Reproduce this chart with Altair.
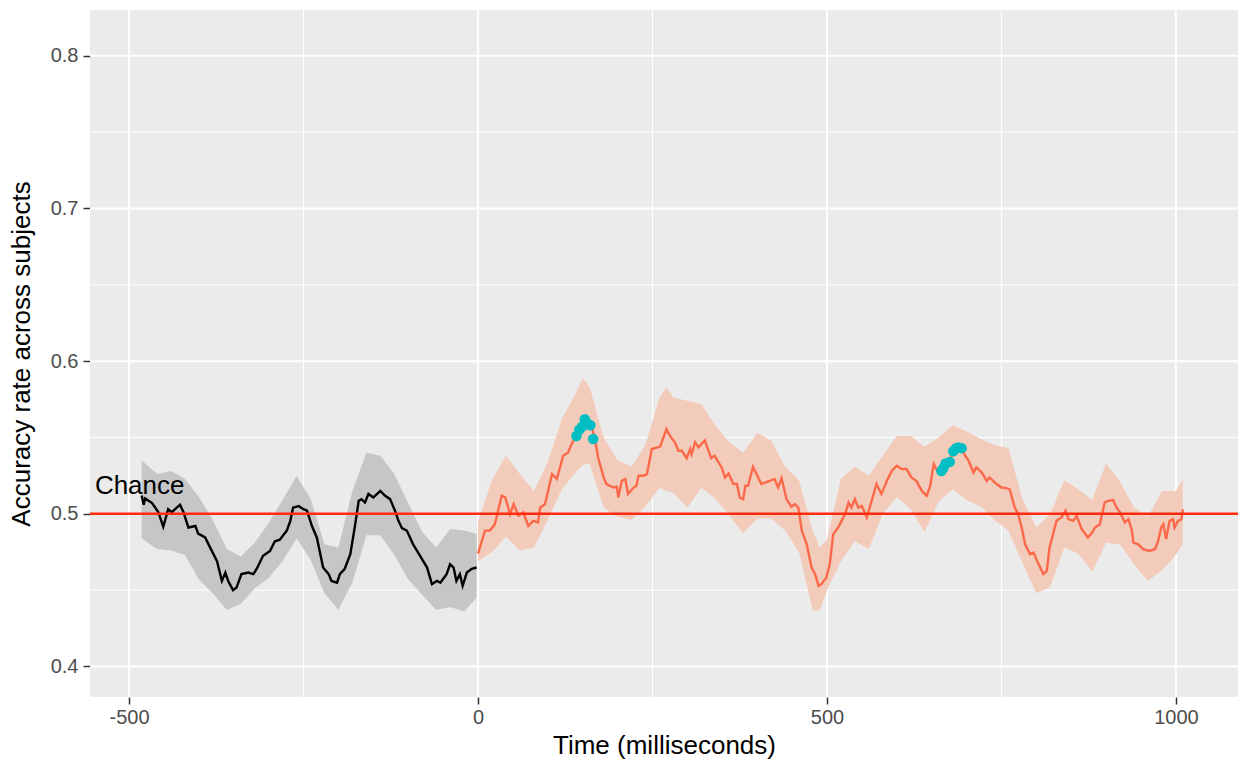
import altair as alt
import pandas as pd

# ---- pre-stimulus (baseline) mean accuracy ----
pre_t = [-482, -479, -477, -467, -458, -451, -444, -439, -427, -422, -415, -405, -401, -391,
         -384, -374, -367, -362, -358, -351, -346, -339, -329, -322, -317, -308, -298, -291,
         -284, -274, -269, -265, -257, -250, -245, -238, -231, -222, -214, -210, -202, -198,
         -191, -183, -176, -171, -167, -162, -157, -150, -140, -133, -126, -119, -114, -109,
         -102, -93, -83, -73, -66, -59, -54, -45, -40, -35, -31, -26, -22, -16, -9, -2]
pre_acc = [0.512, 0.506, 0.510, 0.507, 0.501, 0.4915, 0.503, 0.501, 0.506, 0.501, 0.491, 0.492,
           0.487, 0.4845, 0.478, 0.469, 0.456, 0.4615, 0.456, 0.450, 0.4517, 0.4605, 0.4615,
           0.4605, 0.464, 0.4725, 0.4757, 0.482, 0.483, 0.489, 0.4954, 0.504, 0.505, 0.503,
           0.502, 0.492, 0.4845, 0.4648, 0.4605, 0.456, 0.4549, 0.4605, 0.464, 0.4736, 0.493,
           0.5085, 0.5096, 0.5074, 0.513, 0.5107, 0.515, 0.5118, 0.5096, 0.502, 0.4954, 0.4906,
           0.489, 0.480, 0.4725, 0.4648, 0.4539, 0.456, 0.4549, 0.4605, 0.467, 0.4648, 0.456,
           0.4605, 0.4528, 0.4615, 0.464, 0.4648]
pre_band_t = [-482, -460, -440, -420, -400, -380, -360, -340, -320, -300, -280, -260, -240,
              -220, -200, -180, -160, -140, -120, -100, -80, -60, -40, -20, -2]
pre_hi = [0.535, 0.526, 0.528, 0.523, 0.511, 0.496, 0.477, 0.472, 0.481, 0.494, 0.509, 0.525,
          0.510, 0.480, 0.478, 0.515, 0.540, 0.538, 0.526, 0.507, 0.488, 0.478, 0.490, 0.489,
          0.487]
pre_lo = [0.484, 0.477, 0.476, 0.473, 0.457, 0.448, 0.437, 0.441, 0.451, 0.458, 0.469, 0.484,
          0.470, 0.448, 0.437, 0.455, 0.486, 0.486, 0.473, 0.457, 0.447, 0.437, 0.439, 0.436,
          0.445]

# ---- post-stimulus mean accuracy ----
post_t = [0, 10, 17, 24, 34, 39, 46, 51, 58, 65, 72, 79, 86, 89, 96, 106, 113, 122, 129, 134,
          141, 146, 153, 158, 163, 168, 172, 180, 184, 194, 199, 201, 206, 211, 215, 223, 227,
          230, 237, 242, 249, 261, 270, 275, 282, 287, 292, 299, 304, 306, 311, 316, 325, 334,
          339, 349, 354, 359, 366, 371, 375, 380, 383, 387, 394, 406, 418, 425, 430, 435, 442,
          449, 454, 459, 464, 471, 478, 483, 488, 492, 499, 504, 509, 516, 521, 526, 531, 535,
          540, 545, 550, 557, 564, 571, 578, 586, 593, 600, 607, 614, 621, 628, 636, 643, 648,
          653, 658, 664, 669, 676, 681, 688, 693, 698, 703, 710, 714, 722, 729, 733, 743, 750,
          757, 762, 769, 774, 779, 784, 791, 796, 801, 810, 815, 819, 824, 829, 836, 842, 846,
          853, 858, 865, 874, 880, 884, 891, 898, 903, 910, 915, 920, 927, 932, 937, 939, 946,
          953, 962, 970, 974, 979, 982, 986, 991, 996, 998, 1003, 1008, 1010]
post_acc = [0.474, 0.489, 0.489, 0.493, 0.5118, 0.5107, 0.4998, 0.5064, 0.4987, 0.5009, 0.492,
            0.4954, 0.4943, 0.504, 0.5064, 0.526, 0.5228, 0.538, 0.540, 0.5457, 0.551, 0.554,
            0.561, 0.558, 0.557, 0.548, 0.537, 0.5238, 0.5195, 0.5172, 0.5177, 0.5107, 0.5216,
            0.5228, 0.513, 0.5172, 0.5184, 0.5249, 0.5249, 0.526, 0.5424, 0.544, 0.5555, 0.551,
            0.5468, 0.5413, 0.5413, 0.5365, 0.5424, 0.539, 0.5468, 0.5435, 0.548, 0.5365, 0.538,
            0.5304, 0.5238, 0.5264, 0.5195, 0.5195, 0.5107, 0.5096, 0.5184, 0.5184, 0.5308,
            0.5195, 0.5216, 0.5228, 0.5172, 0.5234, 0.5096, 0.5046, 0.5064, 0.5041, 0.489, 0.480,
            0.4648, 0.4605, 0.4528, 0.4539, 0.4582, 0.467, 0.4867, 0.491, 0.4954, 0.4998, 0.5074,
            0.5041, 0.5096, 0.5041, 0.5052, 0.4976, 0.5085, 0.5195, 0.513, 0.5216, 0.5282,
            0.5315, 0.5293, 0.5293, 0.5238, 0.5216, 0.515, 0.5118, 0.5184, 0.5326, 0.5282, 0.528,
            0.5315, 0.5337, 0.5413, 0.5435, 0.5424, 0.538, 0.5348, 0.527, 0.5304, 0.527, 0.5216,
            0.5238, 0.5195, 0.5172, 0.5168, 0.516, 0.5041, 0.4998, 0.491, 0.480, 0.4736, 0.4746,
            0.4692, 0.4605, 0.4626, 0.478, 0.4867, 0.4954, 0.4976, 0.502, 0.4965, 0.4954, 0.4987,
            0.490, 0.4845, 0.4877, 0.491, 0.4932, 0.5074, 0.5085, 0.509, 0.5041, 0.5009, 0.4943,
            0.4965, 0.489, 0.4812, 0.480, 0.4768, 0.4757, 0.4768, 0.4812, 0.491, 0.4932, 0.4834,
            0.4954, 0.4965, 0.491, 0.4954, 0.4965, 0.503]
post_band_t = [0, 20, 40, 60, 80, 100, 120, 140, 150, 160, 180, 200, 220, 240, 260, 270, 280,
               300, 320, 340, 360, 380, 400, 420, 440, 460, 480, 490, 500, 520, 540, 560, 580,
               600, 620, 640, 660, 680, 700, 720, 740, 760, 780, 800, 820, 840, 860, 880, 900,
               920, 940, 960, 980, 1000, 1010]
post_hi = [0.495, 0.522, 0.538, 0.526, 0.515, 0.534, 0.562, 0.579, 0.589, 0.583, 0.550, 0.535,
           0.531, 0.545, 0.576, 0.583, 0.576, 0.574, 0.572, 0.558, 0.547, 0.540, 0.553, 0.548,
           0.531, 0.522, 0.488, 0.478, 0.483, 0.523, 0.531, 0.525, 0.538, 0.551, 0.551, 0.544,
           0.550, 0.558, 0.554, 0.549, 0.545, 0.543, 0.510, 0.491, 0.500, 0.522, 0.516, 0.509,
           0.533, 0.521, 0.504, 0.498, 0.515, 0.515, 0.523]
post_lo = [0.469, 0.475, 0.485, 0.476, 0.478, 0.496, 0.516, 0.527, 0.532, 0.533, 0.504, 0.498,
           0.496, 0.505, 0.517, 0.515, 0.514, 0.504, 0.517, 0.510, 0.499, 0.487, 0.497, 0.497,
           0.489, 0.475, 0.436, 0.437, 0.450, 0.469, 0.482, 0.477, 0.500, 0.511, 0.503, 0.488,
           0.508, 0.516, 0.509, 0.505, 0.496, 0.489, 0.468, 0.448, 0.452, 0.478, 0.474, 0.462,
           0.481, 0.480, 0.467, 0.456, 0.463, 0.473, 0.480]

# ---- significant time points ----
sig_t = [141, 145, 149, 153, 157, 161, 165, 664, 667, 670, 676, 681, 685, 688, 693]
sig_acc = [0.551, 0.555, 0.557, 0.562, 0.559, 0.558, 0.549, 0.528, 0.530, 0.533, 0.534,
           0.541, 0.543, 0.5435, 0.543]

chance = 0.5
chance_label = ["Chance"]
chance_label_t = [-549]
chance_label_acc = [0.513]

x_major = [-500, 0, 500, 1000]
x_minor = [-250, 250, 750]
y_major = [0.4, 0.5, 0.6, 0.7, 0.8]
y_minor = [0.45, 0.55, 0.65, 0.75]

FONT = "Liberation Sans"
xs = alt.Scale(domain=[-556, 1089], nice=False, zero=False)
ys = alt.Scale(domain=[0.38, 0.83], nice=False, zero=False)
xaxis = alt.Axis(values=x_major, labelExpr="'' + datum.value", title="Time (milliseconds)",
                 grid=False, domain=False, tickSize=7, tickWidth=1.5, tickColor="#333333",
                 labelColor="#4D4D4D", labelFontSize=20, labelFont=FONT, labelPadding=3,
                 labelFlush=False, labelOverlap=False, titleFont=FONT, titleFontSize=26,
                 titleFontWeight="normal", titleColor="black", titlePadding=5)
yaxis = alt.Axis(values=y_major, format=".1f", title="Accuracy rate across subjects",
                 grid=False, domain=False, tickSize=7, tickWidth=1.5, tickColor="#333333",
                 labelColor="#4D4D4D", labelFontSize=20, labelFont=FONT, labelPadding=5,
                 labelFlush=False, labelOverlap=False, titleFont=FONT, titleFontSize=26,
                 titleFontWeight="normal", titleColor="black", titlePadding=16)

df_pre = pd.DataFrame({"t": pre_t, "acc": pre_acc})
df_pre_band = pd.DataFrame({"t": pre_band_t, "lo": pre_lo, "hi": pre_hi})
df_post = pd.DataFrame({"t": post_t, "acc": post_acc})
df_post_band = pd.DataFrame({"t": post_band_t, "lo": post_lo, "hi": post_hi})
df_sig = pd.DataFrame({"t": sig_t, "acc": sig_acc})
df_text = pd.DataFrame({"t": chance_label_t, "acc": chance_label_acc, "label": chance_label})

X = alt.X("t:Q", scale=xs, axis=xaxis)
Y = alt.Y("acc:Q", scale=ys, axis=yaxis)

vminor = alt.Chart(pd.DataFrame({"t": x_minor})).mark_rule(color="white", strokeWidth=1).encode(x=X)
vmajor = alt.Chart(pd.DataFrame({"t": x_major})).mark_rule(color="white", strokeWidth=2).encode(x=X)
hminor = alt.Chart(pd.DataFrame({"acc": y_minor})).mark_rule(color="white", strokeWidth=1).encode(y=Y)
hmajor = alt.Chart(pd.DataFrame({"acc": y_major})).mark_rule(color="white", strokeWidth=2).encode(y=Y)

pre_band = alt.Chart(df_pre_band).mark_area(color="#C6C6C6").encode(
    x=X, y=alt.Y("lo:Q", scale=ys, axis=yaxis), y2=alt.Y2("hi:Q"))
post_band = alt.Chart(df_post_band).mark_area(color="#F3CBBA").encode(
    x=X, y=alt.Y("lo:Q", scale=ys, axis=yaxis), y2=alt.Y2("hi:Q"))
pre_line = alt.Chart(df_pre).mark_line(color="black", strokeWidth=2.4).encode(x=X, y=Y)
post_line = alt.Chart(df_post).mark_line(color="#FA6A4A", strokeWidth=2.4).encode(x=X, y=Y)
hline = alt.Chart(pd.DataFrame({"acc": [chance]})).mark_rule(color="#FF2A10", strokeWidth=2.4).encode(y=Y)
pts = alt.Chart(df_sig).mark_circle(color="#00BFC4", opacity=1, size=110).encode(x=X, y=Y)
txt = alt.Chart(df_text).mark_text(align="left", baseline="alphabetic", font=FONT, fontSize=26,
                                   color="black").encode(x=X, y=Y, text="label:N")

chart = alt.layer(vminor, vmajor, hminor, hmajor, pre_band, post_band, pre_line, post_line,
                  hline, pts, txt).properties(
    width=1148, height=687,
    autosize=alt.AutoSizeParams(type="none"),
    padding={"left": 90, "top": 10, "right": 0, "bottom": 67},
).configure_view(fill="#EBEBEB", stroke=None)

chart.save("out.html", embed_options={"renderer": "svg", "actions": False})
